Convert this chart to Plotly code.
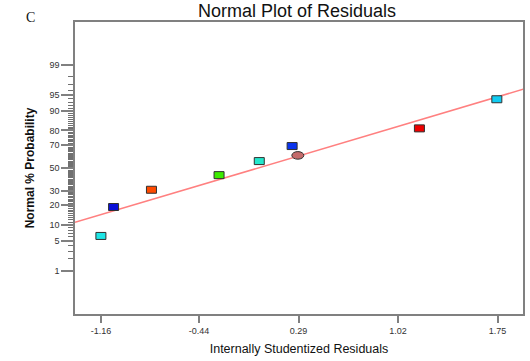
import plotly.graph_objects as go
from statistics import NormalDist

# ---- data ----
resid = [-1.16, -1.067, -0.789, -0.293, 0.002, 0.243, 0.285, 1.177, 1.745]
prob_pct = [6.2, 18.8, 31.0, 43.4, 56.0, 68.8, 61.0, 81.3, 93.9]
colors = ["#1ee6e6", "#0a10d8", "#ff4a00", "#3cec00", "#22e8cc", "#0a34ee", "#c46a6a", "#ee0000", "#10ccf2"]
shapes_kind = ["rect", "rect", "rect", "rect", "rect", "rect", "ellipse", "rect", "rect"]

fit_x = [-1.35, 1.94]
fit_pct = [10.9, 96.2]

x_ticks = [-1.16, -0.44, 0.29, 1.02, 1.75]
x_ticklabels = ["-1.16", "-0.44", "0.29", "1.02", "1.75"]
y_ticks_pct = [1, 5, 10, 20, 30, 50, 70, 80, 90, 95, 99]
y_minor_pct = [p for p in range(2, 99) if p not in y_ticks_pct]

nd = NormalDist()
def z(p):
    return nd.inv_cdf(p / 100.0)

fig = go.Figure()

fig.add_trace(go.Scatter(
    x=fit_x, y=[z(p) for p in fit_pct], mode="lines",
    line=dict(color="#ff8080", width=1.5), hoverinfo="skip", showlegend=False))

fig.add_trace(go.Scatter(
    x=resid, y=[z(p) for p in prob_pct], mode="markers",
    marker=dict(size=8, opacity=0), showlegend=False,
    text=[f"{p}%" for p in prob_pct]))

shapes = []
for xv, pv, c, k in zip(resid, prob_pct, colors, shapes_kind):
    if k == "rect":
        hw, hh = 5, 3.5
    else:
        hw, hh = 6, 3.8
    shapes.append(dict(
        type="rect" if k == "rect" else "circle",
        xref="x", yref="y", xsizemode="pixel", ysizemode="pixel",
        xanchor=xv, yanchor=z(pv),
        x0=-hw, x1=hw, y0=-hh, y1=hh,
        fillcolor=c, line=dict(color="#303030", width=1)))

fig.update_layout(
    width=530, height=361,
    margin=dict(l=75, r=7, t=22, b=47, autoexpand=False),
    paper_bgcolor="white", plot_bgcolor="white",
    font=dict(family="Liberation Sans, Arial, sans-serif", color="#333333"),
    title=dict(text="Normal Plot of Residuals", x=297 / 530, xanchor="center",
               y=1 - 11 / 361, yanchor="middle",
               font=dict(size=18, color="#111111")),
    shapes=shapes,
    annotations=[dict(text="C", xref="paper", yref="paper", x=(30 - 75) / 448,
                      y=(314 - 17) / 292, showarrow=False, xanchor="center",
                      yanchor="middle",
                      font=dict(family="Liberation Serif, Times New Roman, serif",
                                size=14, color="#111111"))],
)

fig.update_xaxes(
    range=[-1.35, 1.937], tickmode="array", tickvals=x_ticks, ticktext=x_ticklabels,
    ticks="outside", ticklen=7, tickwidth=1.5, tickcolor="#808080",
    tickfont=dict(size=9, color="#333333"), automargin=False,
    showline=True, linecolor="#808080", linewidth=1.5, mirror=True,
    showgrid=False, zeroline=False,
    title=dict(text="Internally Studentized Residuals", standoff=10,
               font=dict(size=12.5, color="#111111")))

fig.update_yaxes(
    range=[-3.3, 3.29], tickmode="array", tickvals=[z(p) for p in y_ticks_pct],
    ticktext=[str(p) for p in y_ticks_pct],
    ticks="outside", ticklen=12, tickwidth=1.5, tickcolor="#808080",
    tickfont=dict(size=9, color="#333333"), automargin=False,
    minor=dict(tickmode="array", tickvals=[z(p) for p in y_minor_pct],
               ticks="outside", ticklen=5, tickwidth=1, tickcolor="#707070",
               showgrid=False),
    showline=True, linecolor="#808080", linewidth=1.5, mirror=True,
    showgrid=False, zeroline=False,
    title=dict(text="<b>Normal % Probability</b>", standoff=12,
               font=dict(size=12, color="#111111")))

fig.write_html("out.html", config={"displayModeBar": False},
               post_script="document.body.style.margin='0px';")
